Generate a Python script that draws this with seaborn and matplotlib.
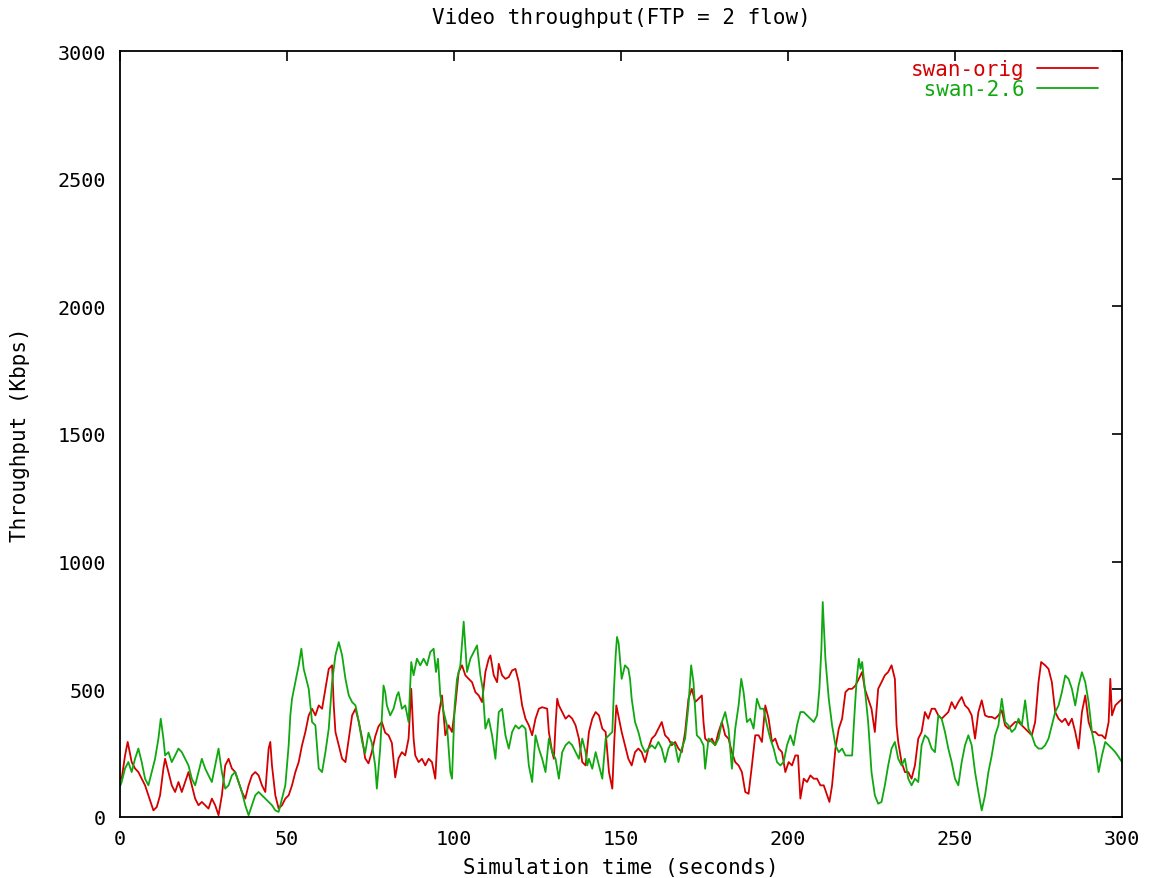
import matplotlib
matplotlib.use("Agg")
import matplotlib.pyplot as plt
import seaborn as sns
import pandas as pd

# swan-orig: (time s, throughput Kbps)
orig_time = [0.0, 0.5, 1.5, 2.3, 3.5, 4.5, 5.5, 6.5, 7.5, 8.5, 10.0, 11.0, 12.0, 13.0, 13.5,
             14.5, 15.5, 16.5, 17.5, 18.5, 19.5, 20.5, 21.5, 22.5, 23.5, 24.5, 25.5, 26.5,
             27.5, 28.5, 29.5, 30.5, 31.5, 32.5, 33.5, 34.5, 35.5, 36.5, 37.5, 38.5, 39.5,
             40.5, 41.5, 42.5, 43.5, 44.5, 45.0, 45.5, 46.5, 47.5, 48.5, 49.5, 50.5, 51.5,
             52.5, 53.5, 54.5, 55.5, 56.5, 57.5, 58.5, 59.5, 60.5, 61.5, 62.5, 63.5, 64.0,
             64.5, 65.5, 66.5, 67.5, 68.5, 69.5, 70.5, 71.5, 72.5, 73.4, 74.4, 75.4, 76.4,
             77.4, 78.4, 79.4, 80.4, 81.4, 82.4, 83.4, 84.4, 85.4, 86.4, 87.2, 87.9, 88.4,
             89.4, 90.4, 91.4, 92.4, 93.4, 94.4, 95.4, 96.4, 97.4, 98.4, 99.4, 100.4, 101.4,
             102.4, 103.4, 104.4, 105.4, 106.4, 107.4, 108.4, 109.4, 110.4, 110.9, 111.9,
             112.9, 113.4, 114.4, 115.4, 116.4, 117.4, 118.4, 119.4, 120.4, 121.4, 122.4,
             123.4, 124.4, 125.4, 126.4, 127.9, 128.4, 129.4, 129.9, 130.4, 130.9, 131.4,
             132.4, 133.4, 134.4, 135.4, 136.4, 137.4, 138.4, 139.4, 140.4, 141.4, 142.4,
             143.4, 144.4, 145.4, 146.4, 147.4, 148.0, 148.6, 149.2, 150.2, 151.2, 152.2,
             153.2, 154.2, 155.2, 156.2, 157.2, 158.2, 159.2, 160.2, 161.2, 162.2, 163.2,
             164.2, 165.2, 166.2, 167.2, 168.2, 169.2, 170.2, 171.2, 172.2, 173.2, 174.2,
             174.7, 175.2, 176.2, 177.2, 178.2, 179.2, 180.2, 181.2, 182.2, 183.2, 184.2,
             185.2, 186.2, 187.2, 188.2, 189.2, 190.2, 191.2, 192.2, 193.2, 194.2, 195.2,
             196.2, 197.2, 198.2, 199.2, 200.2, 201.2, 202.2, 203.0, 203.7, 204.7, 205.7,
             206.7, 207.7, 208.7, 209.7, 210.7, 211.7, 212.4, 213.2, 214.2, 215.2, 216.2,
             217.2, 218.2, 219.2, 220.2, 221.2, 222.2, 223.0, 224.0, 225.0, 226.0, 227.0,
             228.0, 229.0, 230.0, 231.0, 232.0, 232.5, 233.0, 234.0, 235.0, 236.0, 237.0,
             238.0, 239.0, 240.0, 241.0, 242.0, 243.0, 244.0, 245.0, 246.0, 247.0, 248.0,
             249.0, 250.0, 251.0, 252.0, 253.0, 254.0, 255.0, 256.0, 257.0, 258.0, 259.0,
             260.0, 261.0, 262.0, 263.0, 264.0, 265.0, 266.0, 267.0, 268.0, 269.0, 270.0,
             271.0, 272.0, 273.0, 274.0, 275.0, 275.8, 277.0, 278.0, 279.0, 280.0, 281.0,
             282.0, 283.0, 284.0, 285.0, 286.0, 287.0, 288.0, 289.0, 290.0, 291.0, 292.0,
             293.0, 294.0, 295.0, 296.0, 296.5, 297.0, 298.0, 299.0, 300.0]
orig_kbps = [150, 150, 240, 294, 215, 190, 176, 150, 124, 85, 26, 39, 85, 190, 228,
             176, 124, 98, 137, 98, 137, 176, 124, 72, 46, 59, 46, 33,
             72, 46, 7, 85, 202, 228, 190, 176, 137, 98, 72, 124, 163,
             176, 163, 124, 98, 268, 294, 202, 85, 33, 46, 72, 85, 124,
             176, 215, 281, 333, 398, 424, 398, 437, 424, 502, 580, 594, 437,
             333, 281, 228, 215, 307, 398, 424, 372, 307, 230, 210, 255, 315,
             355, 372, 330, 320, 290, 155, 230, 254, 241, 307, 502, 307, 241,
             215, 228, 202, 228, 215, 150, 398, 476, 320, 359, 333, 437, 568,
             594, 555, 541, 528, 489, 476, 450, 568, 620, 633, 555,
             528, 600, 555, 541, 548, 574, 580, 528, 437, 385, 359,
             320, 385, 424, 430, 424, 333, 254, 228, 359, 463, 437,
             411, 385, 398, 385, 359, 307, 215, 202, 333, 385, 411,
             398, 346, 333, 176, 111, 300, 437, 398, 333, 281, 228,
             202, 254, 268, 254, 215, 268, 307, 320, 346, 372, 320,
             307, 281, 294, 268, 254, 333, 463, 502, 450, 463, 476,
             372, 307, 294, 307, 281, 333, 372, 320, 307, 254, 215,
             202, 176, 98, 91, 202, 320, 320, 294, 437, 385, 294,
             307, 268, 254, 176, 215, 202, 241, 241, 72, 150, 137,
             163, 150, 150, 124, 124, 85, 59, 124, 268, 346, 385,
             489, 502, 502, 515, 541, 568, 502, 463, 424, 333, 502,
             528, 555, 568, 594, 541, 359, 294, 215, 176, 176, 150,
             202, 307, 333, 411, 385, 424, 424, 398, 385, 398, 411,
             450, 424, 450, 470, 437, 424, 398, 307, 411, 457, 398,
             392, 392, 385, 398, 418, 359, 346, 359, 372, 372, 359,
             346, 333, 320, 372, 528, 607, 594, 580, 528, 411, 385,
             372, 385, 359, 385, 333, 268, 411, 476, 372, 333, 333,
             320, 320, 307, 372, 541, 398, 437, 450, 462]

# swan-2.6: (time s, throughput Kbps)
new_time = [0.0, 0.5, 1.5, 2.5, 3.5, 4.5, 5.5, 6.5, 7.5, 8.5, 9.5, 10.5, 11.5, 12.2, 13.0,
            13.5, 14.5, 15.5, 16.5, 17.5, 18.5, 19.5, 20.5, 21.5, 22.5, 23.5, 24.5, 25.5,
            26.5, 27.5, 28.5, 29.5, 30.5, 31.5, 32.5, 33.5, 34.5, 35.5, 36.5, 37.5, 38.5,
            39.5, 40.5, 41.5, 42.5, 43.5, 44.5, 45.5, 46.5, 47.5, 48.5, 49.5, 50.5, 51.0,
            51.5, 52.5, 53.5, 54.3, 55.0, 56.0, 56.5, 57.5, 58.5, 59.5, 60.5, 61.5, 62.5,
            63.5, 64.5, 65.5, 66.5, 67.5, 68.5, 69.5, 70.5, 71.5, 72.5, 73.4, 74.4, 75.4,
            76.4, 76.9, 77.9, 78.9, 79.4, 79.9, 80.9, 81.9, 82.9, 83.4, 84.4, 85.4, 86.4,
            87.2, 87.9, 88.9, 89.9, 90.9, 91.9, 92.9, 93.9, 94.6, 95.2, 95.9, 96.9, 97.9,
            98.9, 99.4, 100.2, 100.9, 101.9, 102.9, 103.9, 104.9, 105.9, 106.9, 107.9,
            108.6, 109.4, 110.4, 111.4, 112.4, 113.4, 114.4, 115.4, 116.4, 117.4, 118.4,
            119.4, 120.4, 121.4, 122.4, 123.4, 124.4, 125.4, 126.4, 127.4, 128.4, 129.4,
            130.4, 131.4, 132.4, 133.4, 134.4, 135.4, 136.4, 137.4, 138.4, 139.4, 139.9,
            140.4, 141.4, 142.4, 143.4, 144.4, 145.4, 146.4, 147.4, 147.9, 148.4, 148.8,
            149.3, 150.2, 151.2, 152.2, 152.7, 153.2, 154.2, 155.2, 156.2, 157.2, 158.2,
            159.2, 160.2, 161.2, 162.2, 163.2, 164.2, 165.2, 166.2, 167.2, 168.2, 169.2,
            170.2, 171.0, 171.7, 172.7, 173.7, 174.7, 175.2, 176.2, 177.2, 178.2, 179.2,
            180.2, 181.2, 182.2, 183.2, 184.2, 185.2, 186.0, 186.7, 187.7, 188.7, 189.7,
            190.7, 191.7, 192.7, 193.7, 194.7, 195.7, 196.7, 197.7, 198.7, 199.7, 200.7,
            201.7, 202.7, 203.7, 204.7, 205.7, 206.7, 207.7, 208.7, 209.4, 210.0, 210.4,
            211.2, 212.2, 213.2, 214.2, 215.2, 216.2, 217.2, 218.2, 219.2, 219.7, 220.5,
            221.2, 221.7, 222.2, 223.0, 224.0, 225.0, 226.0, 227.0, 228.0, 229.0, 230.0,
            231.0, 232.0, 233.0, 234.0, 235.0, 236.0, 237.0, 238.0, 239.0, 240.0, 241.0,
            242.0, 243.0, 244.0, 245.0, 246.0, 247.0, 248.0, 249.0, 250.0, 251.0, 252.0,
            253.0, 254.0, 255.0, 256.0, 257.0, 258.0, 259.0, 260.0, 261.0, 262.0, 263.0,
            264.0, 265.0, 266.0, 267.0, 268.0, 269.0, 270.0, 271.0, 272.0, 273.0, 274.0,
            275.0, 276.0, 277.0, 278.0, 279.0, 280.0, 281.0, 282.0, 283.0, 284.0, 285.0,
            286.0, 287.0, 288.0, 289.0, 290.0, 291.0, 292.0, 293.0, 294.0, 295.0, 296.0,
            297.0, 298.0, 299.0, 300.0]
new_kbps = [120, 137, 190, 215, 176, 228, 268, 215, 150, 124, 176, 228, 307, 385, 307,
            241, 254, 215, 241, 268, 254, 228, 202, 150, 124, 176, 228, 190,
            163, 137, 202, 268, 176, 111, 124, 163, 176, 137, 98, 46, 7,
            46, 85, 98, 85, 72, 59, 46, 26, 20, 72, 124, 281, 398,
            463, 528, 594, 659, 580, 528, 502, 372, 359, 190, 176, 254, 346,
            528, 633, 685, 633, 541, 476, 450, 437, 372, 294, 250, 330, 290,
            202, 111, 268, 515, 489, 437, 398, 424, 476, 489, 424, 437, 372,
            607, 555, 620, 594, 620, 594, 646, 659, 568, 620, 476, 411, 359,
            176, 150, 437, 541, 594, 765, 568, 620, 646, 672, 555,
            502, 346, 385, 320, 228, 411, 424, 320, 268, 333, 359,
            346, 359, 346, 202, 137, 320, 268, 228, 176, 307, 254,
            228, 150, 254, 281, 294, 281, 254, 228, 307, 254, 202,
            228, 189, 254, 202, 150, 307, 320, 333, 502, 633, 705,
            680, 541, 594, 580, 541, 463, 372, 333, 281, 254, 268,
            281, 268, 294, 268, 215, 268, 294, 281, 215, 268, 307,
            437, 594, 528, 320, 307, 281, 189, 307, 294, 281, 307,
            372, 411, 346, 189, 346, 437, 541, 489, 372, 385, 346,
            463, 424, 424, 359, 307, 268, 215, 202, 215, 281, 320,
            281, 359, 411, 411, 398, 385, 372, 398, 502, 659, 842,
            620, 463, 359, 281, 254, 268, 241, 241, 241, 359, 528,
            620, 580, 607, 502, 372, 176, 85, 52, 59, 124, 202,
            268, 294, 228, 202, 228, 150, 124, 150, 137, 281, 320,
            307, 268, 254, 398, 385, 333, 268, 215, 150, 124, 215,
            281, 320, 281, 176, 98, 26, 85, 176, 241, 320, 359,
            463, 372, 359, 333, 346, 385, 359, 457, 346, 320, 281,
            268, 268, 281, 307, 359, 411, 437, 489, 554, 541, 502,
            437, 515, 567, 528, 450, 333, 268, 176, 241, 294, 281,
            268, 254, 235, 215]

series_names = ["swan-orig", " swan-2.6"]
series_colors = ["#d40000", "#10a810"]

x_ticks = [0, 50, 100, 150, 200, 250, 300]
y_ticks = [0, 500, 1000, 1500, 2000, 2500, 3000]

title_text = "Video throughput(FTP = 2 flow)"
x_label = "Simulation time (seconds)"
y_label = "Throughput (Kbps)"

df = pd.concat([
    pd.DataFrame({"time": orig_time, "kbps": orig_kbps, "series": series_names[0]}),
    pd.DataFrame({"time": new_time, "kbps": new_kbps, "series": series_names[1]}),
], ignore_index=True)

sns.set_style("white")
plt.rcParams["font.family"] = ["DejaVu Sans Mono"]
plt.rcParams["font.size"] = 15
plt.rcParams["text.color"] = "black"
plt.rcParams["axes.labelcolor"] = "black"
plt.rcParams["xtick.color"] = "black"
plt.rcParams["ytick.color"] = "black"

fig = plt.figure(figsize=(11.57, 8.79), dpi=100)
ax = fig.add_axes([120 / 1157, 1 - 818 / 879, 1002 / 1157, 766 / 879])

sns.lineplot(data=df, x="time", y="kbps", hue="series", palette=series_colors,
             estimator=None, sort=False, linewidth=1.3, ax=ax)

ax.set_xlim(0, 300)
ax.set_ylim(0, 3000)
ax.set_xticks(x_ticks)
ax.set_yticks(y_ticks)
ax.tick_params(direction="in", top=True, right=True, length=7, width=1.2,
               labelsize=14.5, color="black", labelcolor="black")
ax.tick_params(axis="x", pad=9)
ax.tick_params(axis="y", pad=10)
for sp in ax.spines.values():
    sp.set_color("black")
    sp.set_linewidth(1.3)

ax.set_title(title_text, fontsize=15, pad=20, color="black")
ax.set_xlabel(x_label, fontsize=15, labelpad=6)
ax.set_ylabel(y_label, fontsize=15, labelpad=20)

leg = ax.legend(loc="upper right", bbox_to_anchor=(0.984, 1.0), frameon=False,
                markerfirst=False, handlelength=2.9, handletextpad=0.6,
                labelspacing=0.0, fontsize=15, borderaxespad=0.0,
                labelcolor="linecolor")

fig.savefig("out.png", dpi=100)
